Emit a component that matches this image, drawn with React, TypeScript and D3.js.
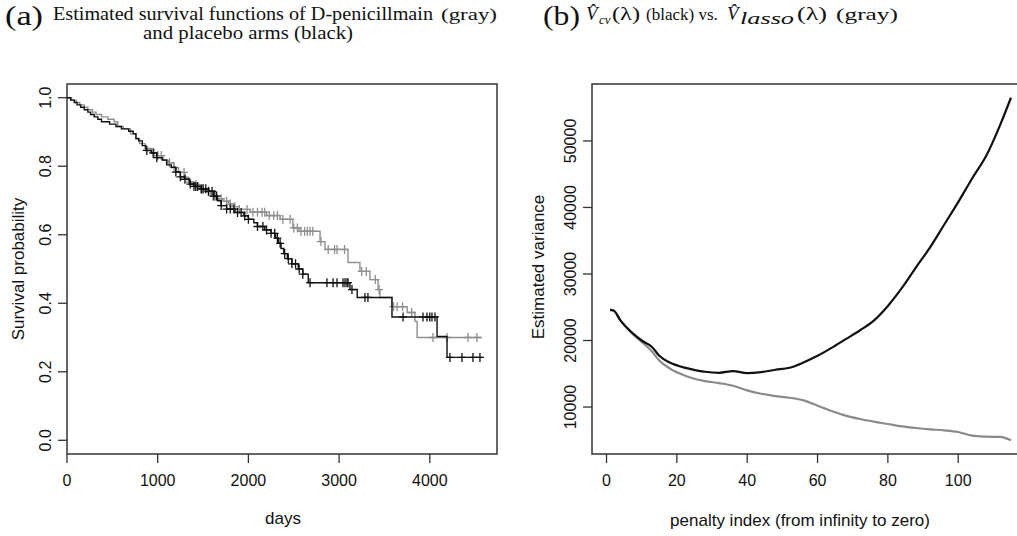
import * as d3 from "d3";

// ---- panel (a): Kaplan-Meier curves (days, survival after drop) ----
const placeboTimes = [0, 40, 80, 110, 150, 190, 230, 260, 300, 340, 380, 470, 540, 600, 680, 730, 760, 790, 830, 870, 930, 990, 1050, 1100, 1150, 1200, 1250, 1300, 1350, 1400, 1480, 1560, 1620, 1660, 1700, 1760, 1850, 1950, 2000, 2060, 2100, 2180, 2250, 2300, 2330, 2360, 2390, 2430, 2480, 2550, 2600, 2660, 3120, 3200, 3583, 4080, 4190];
const placeboSurv = [1.0, 0.993, 0.986, 0.979, 0.972, 0.965, 0.958, 0.951, 0.944, 0.937, 0.93, 0.923, 0.916, 0.909, 0.902, 0.895, 0.881, 0.874, 0.86, 0.846, 0.839, 0.825, 0.818, 0.804, 0.797, 0.783, 0.769, 0.762, 0.748, 0.741, 0.734, 0.727, 0.713, 0.699, 0.685, 0.675, 0.665, 0.655, 0.645, 0.635, 0.624, 0.614, 0.604, 0.59, 0.575, 0.56, 0.545, 0.53, 0.515, 0.5, 0.485, 0.46, 0.44, 0.417, 0.36, 0.303, 0.242];
const placeboCensor = [880, 950, 990, 1200, 1250, 1300, 1360, 1400, 1420, 1440, 1480, 1500, 1530, 1560, 1600, 1620, 1650, 1700, 1760, 1800, 1840, 1880, 1920, 1960, 2000, 2100, 2160, 2200, 2250, 2290, 2320, 2350, 2400, 2440, 2480, 2520, 2560, 2600, 2680, 2866, 2933, 2977, 3043, 3065, 3087, 3098, 3142, 3285, 3318, 3705, 3925, 3969, 4000, 4024, 4057, 4222, 4355, 4476, 4553];

const dpenTimes = [0, 50, 100, 140, 190, 230, 280, 320, 380, 450, 520, 560, 620, 700, 760, 800, 860, 930, 1000, 1060, 1120, 1180, 1230, 1300, 1340, 1400, 1460, 1520, 1580, 1650, 1720, 1780, 1820, 1900, 2020, 2200, 2350, 2490, 2560, 2790, 2845, 3098, 3230, 3340, 3430, 3450, 3583, 3750, 3836, 3860];
const dpenSurv = [1.0, 0.993, 0.986, 0.979, 0.972, 0.965, 0.958, 0.951, 0.944, 0.937, 0.93, 0.916, 0.909, 0.895, 0.88, 0.866, 0.852, 0.838, 0.831, 0.817, 0.81, 0.796, 0.782, 0.768, 0.754, 0.747, 0.733, 0.726, 0.712, 0.705, 0.698, 0.69, 0.682, 0.674, 0.666, 0.656, 0.645, 0.62, 0.61, 0.58, 0.557, 0.519, 0.493, 0.469, 0.44, 0.417, 0.39, 0.373, 0.347, 0.3];
const dpenCensor = [960, 1000, 1040, 1130, 1180, 1290, 1350, 1420, 1480, 1500, 1560, 1610, 1640, 1700, 1760, 1800, 1850, 1900, 1985, 2050, 2100, 2150, 2180, 2230, 2280, 2320, 2380, 2460, 2500, 2540, 2580, 2620, 2650, 2680, 2710, 2800, 2880, 2950, 2977, 3060, 3250, 3300, 3400, 3440, 3600, 3640, 3700, 3800, 4035, 4190, 4421, 4520];

const daysTicks = [0, 1000, 2000, 3000, 4000];
const survTicks = [0, 0.2, 0.4, 0.6, 0.8, 1.0];

// ---- panel (b): estimated variance by penalty index ----
const penaltyIndex = [1, 2, 4, 7, 10, 13, 15, 18, 21, 24, 28, 32, 36, 40, 44, 48, 52, 56, 60, 64, 68, 72, 76, 80, 84, 88, 92, 96, 100, 104, 108, 112, 115];
const varCv = [24600, 24500, 23000, 21300, 20000, 19000, 17700, 16700, 16100, 15700, 15300, 15150, 15400, 15100, 15250, 15600, 15900, 16700, 17700, 18900, 20200, 21500, 23000, 25200, 27900, 31000, 34000, 37400, 40800, 44400, 47800, 52500, 56500];
const varLasso = [24600, 24500, 23000, 21200, 19800, 18300, 17000, 15800, 15000, 14400, 13900, 13600, 13200, 12500, 12000, 11650, 11400, 11000, 10200, 9400, 8700, 8200, 7800, 7450, 7100, 6850, 6650, 6500, 6250, 5700, 5550, 5500, 5000];

const penaltyTicks = [0, 20, 40, 60, 80, 100];
const varTicks = [10000, 20000, 30000, 40000, 50000];

const sans = "Liberation Sans, Arial, sans-serif";
const serif = "Liberation Serif, Times New Roman, serif";
const frame = "#333";

// title piece; w stretches it to the width it has in the scan
const T = ({ x, y, w = undefined, size, italic = false, children }) => (
  <text
    x={x}
    y={y}
    fontFamily={serif}
    fontSize={size}
    fontStyle={italic ? "italic" : "normal"}
    textLength={w}
    lengthAdjust={w ? "spacingAndGlyphs" : undefined}
    fill="#111"
  >
    {children}
  </text>
);

const KM = ({ times, surv, censor, end, color, x, y }) => {
  const pts = times.map((t, i) => [t, surv[i]]);
  pts.push([end, surv[surv.length - 1]]);
  const path = d3.line().curve(d3.curveStepAfter).x((d) => x(d[0])).y((d) => y(d[1]))(pts);
  const bis = d3.bisector((t) => t).right;
  return (
    <g>
      <path d={path} fill="none" stroke={color} strokeWidth={1.4} />
      {censor.map((t, i) => {
        const s = surv[Math.max(0, bis(times, t) - 1)];
        const cx = x(t);
        const cy = y(s);
        return (
          <path key={i} d={`M${cx - 4},${cy}H${cx + 4}M${cx},${cy - 4.5}V${cy + 4.5}`} stroke={color} strokeWidth={1.3} />
        );
      })}
    </g>
  );
};

export default function App() {
  // panel a geometry
  const ax = d3.scaleLinear().domain([0, 4741]).range([67, 497]);
  const ay = d3.scaleLinear().domain([-0.04, 1.04]).range([454, 84]);
  // panel b geometry
  const bx = d3.scaleLinear().domain([-3.56, 119.56]).range([594, 1027]);
  const by = d3.scaleLinear().domain([2940, 58560]).range([454, 84]);

  const varLine = (vals) =>
    d3.line().curve(d3.curveMonotoneX).x((d, i) => bx(penaltyIndex[i])).y((d) => by(d))(vals);

  return (
    <div style={{ position: "fixed", left: 0, top: 0 }}>
      <svg width={1017} height={536} style={{ display: "block", background: "#fff" }}>
        {/* titles */}
        <T x={5} y={25} w={38} size={27}>(a)</T>
        <T x={53} y={20} w={380} size={18}>Estimated survival functions of D-penicillmain</T>
        <T x={441} y={20} w={56} size={17}>(gray)</T>
        <T x={143} y={39} w={210} size={18}>and placebo arms (black)</T>

        <T x={543} y={25} w={37} size={27}>(b)</T>
        <T x={586} y={20} size={19} italic>{"V\u0302"}</T>
        <T x={599} y={24} size={13} italic>cv</T>
        <T x={612} y={20} w={28} size={19}>(λ)</T>
        <T x={646} y={20} size={17}>(black) vs.</T>
        <T x={727} y={20} size={19} italic>{"V\u0302"}</T>
        <T x={740} y={24} w={54} size={16} italic>lasso</T>
        <T x={797} y={20} w={30} size={19}>(λ)</T>
        <T x={836} y={20} w={62} size={17}>(gray)</T>

        {/* panel a */}
        <rect x={67} y={84} width={430} height={370} fill="none" stroke={frame} strokeWidth={1.5} />
        {daysTicks.map((t) => (
          <g key={t} transform={`translate(${ax(t)},454)`}>
            <line y2={9} stroke={frame} strokeWidth={1.3} />
            <text y={32} textAnchor="middle" fontFamily={sans} fontSize={16} fill="#111">{t}</text>
          </g>
        ))}
        {survTicks.map((t) => (
          <g key={t} transform={`translate(67,${ay(t)})`}>
            <line x2={-9} stroke={frame} strokeWidth={1.3} />
            <text transform="translate(-16,0) rotate(-90)" textAnchor="middle" fontFamily={sans} fontSize={16} fill="#111">
              {t.toFixed(1)}
            </text>
          </g>
        ))}
        <text x={283} y={524} textAnchor="middle" fontFamily={sans} fontSize={17} fill="#111">days</text>
        <text transform={`translate(24,${ay(0.5)}) rotate(-90)`} textAnchor="middle" fontFamily={sans} fontSize={17} fill="#111">
          Survival probability
        </text>
        <KM times={dpenTimes} surv={dpenSurv} censor={dpenCensor} end={4575} color="#8f8f8f" x={ax} y={ay} />
        <KM times={placeboTimes} surv={placeboSurv} censor={placeboCensor} end={4580} color="#111" x={ax} y={ay} />

        {/* panel b */}
        <path d={`M1030,84H592V454H1030`} fill="none" stroke={frame} strokeWidth={1.5} />
        {penaltyTicks.map((t) => (
          <g key={t} transform={`translate(${bx(t)},454)`}>
            <line y2={9} stroke={frame} strokeWidth={1.3} />
            <text y={32} textAnchor="middle" fontFamily={sans} fontSize={16} fill="#111">{t}</text>
          </g>
        ))}
        {varTicks.map((t) => (
          <g key={t} transform={`translate(592,${by(t)})`}>
            <line x2={-9} stroke={frame} strokeWidth={1.3} />
            <text transform="translate(-16,0) rotate(-90)" textAnchor="middle" fontFamily={sans} fontSize={16} fill="#111">
              {t}
            </text>
          </g>
        ))}
        <text x={800} y={526} textAnchor="middle" fontFamily={sans} fontSize={17} fill="#111">
          penalty index (from infinity to zero)
        </text>
        <text transform={`translate(544,267) rotate(-90)`} textAnchor="middle" fontFamily={sans} fontSize={17} fill="#111">
          Estimated variance
        </text>
        <path d={varLine(varLasso)} fill="none" stroke="#8a8a8a" strokeWidth={2.2} />
        <path d={varLine(varCv)} fill="none" stroke="#111" strokeWidth={2.2} />
      </svg>
    </div>
  );
}
